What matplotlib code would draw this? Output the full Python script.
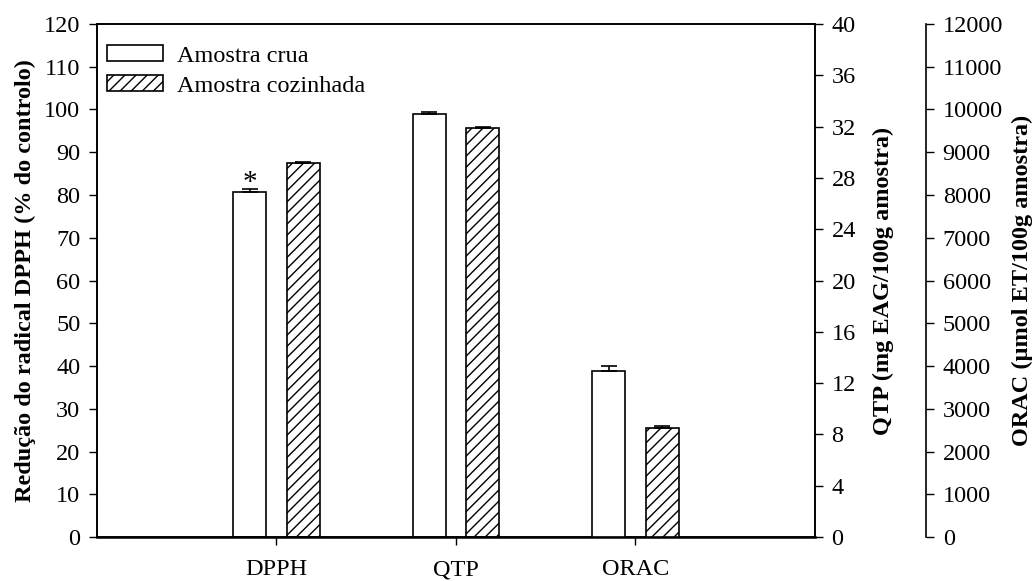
import matplotlib.pyplot as plt
import numpy as np

plt.rcParams['font.family'] = ['Liberation Serif', 'DejaVu Serif']
plt.rcParams['hatch.linewidth'] = 1.0

categories = ['DPPH', 'QTP', 'ORAC']
labels = ['Amostra crua', 'Amostra cozinhada']

# DPPH (% do controlo), left axis
dpph_crua, dpph_coz = 80.8, 87.6
dpph_err = [0.5, 0.2]
# QTP (mg EAG/100g), first right axis
qtp_crua, qtp_coz = 33.0, 31.9
qtp_err = [0.1, 0.05]
# ORAC (umol ET/100g), second right axis
orac_crua, orac_coz = 3890, 2560
orac_err = [110, 30]

x = np.arange(1, len(categories) + 1)
w = 0.184
off = 0.15
TS = 17.5
LS = 17.5

fig = plt.figure(figsize=(10.33, 5.81), dpi=100)
ax = fig.add_axes([0.0939, 0.0757, 0.6950, 0.8830])
ax2 = ax.twinx()
ax3 = ax.twinx()
ax3.spines['right'].set_position(('outward', 80))
for s in ['top', 'left', 'bottom']:
    ax3.spines[s].set_visible(False)

bar_kw = dict(width=w, edgecolor='black', linewidth=1.2, capsize=6,
              error_kw=dict(elinewidth=1.2, capthick=1.2))

b1 = ax.bar(x[0] - off, dpph_crua, color='white', yerr=[[0], [dpph_err[0]]], **bar_kw)
b2 = ax.bar(x[0] + off, dpph_coz, color='white', hatch='///', yerr=[[0], [dpph_err[1]]], **bar_kw)
ax2.bar(x[1] - off, qtp_crua, color='white', yerr=[[0], [qtp_err[0]]], **bar_kw)
ax2.bar(x[1] + off, qtp_coz, color='white', hatch='///', yerr=[[0], [qtp_err[1]]], **bar_kw)
ax3.bar(x[2] - off, orac_crua, color='white', yerr=[[0], [orac_err[0]]], **bar_kw)
ax3.bar(x[2] + off, orac_coz, color='white', hatch='///', yerr=[[0], [orac_err[1]]], **bar_kw)

ax.text(x[0] - off, dpph_crua + dpph_err[0] + 1.6, '*', ha='center', va='center', fontsize=21)

ax.set_xlim(0, 4)
ax.set_xticks(x)
ax.set_xticklabels(categories)
ax.set_ylim(0, 120)
ax.set_yticks(np.arange(0, 121, 10))
ax2.set_ylim(0, 40)
ax2.set_yticks(np.arange(0, 41, 4))
ax3.set_ylim(0, 12000)
ax3.set_yticks(np.arange(0, 12001, 1000))

for a in (ax, ax2, ax3):
    a.tick_params(direction='out', length=6, width=1, labelsize=TS, pad=6)
    for s in a.spines.values():
        s.set_linewidth(1.2)
ax.tick_params(axis='x', pad=10)
ax.spines['bottom'].set_linewidth(1.8)

ax.set_ylabel('Redução do radical DPPH (% do controlo)', fontsize=LS, fontweight='bold', labelpad=6)
ax2.set_ylabel('QTP (mg EAG/100g amostra)', fontsize=LS, fontweight='bold', labelpad=12)
ax3.set_ylabel('ORAC (µmol ET/100g amostra)', fontsize=LS, fontweight='bold', labelpad=6)

ax3.legend([b1, b2], labels, loc='upper left', bbox_to_anchor=(0.0, 0.978),
           bbox_transform=ax.transAxes, frameon=False, fontsize=TS,
           borderaxespad=0, borderpad=0.4,
           handlelength=2.3, handleheight=0.65, handletextpad=0.6, labelspacing=0.35)

fig.savefig('out.png', dpi=100)
